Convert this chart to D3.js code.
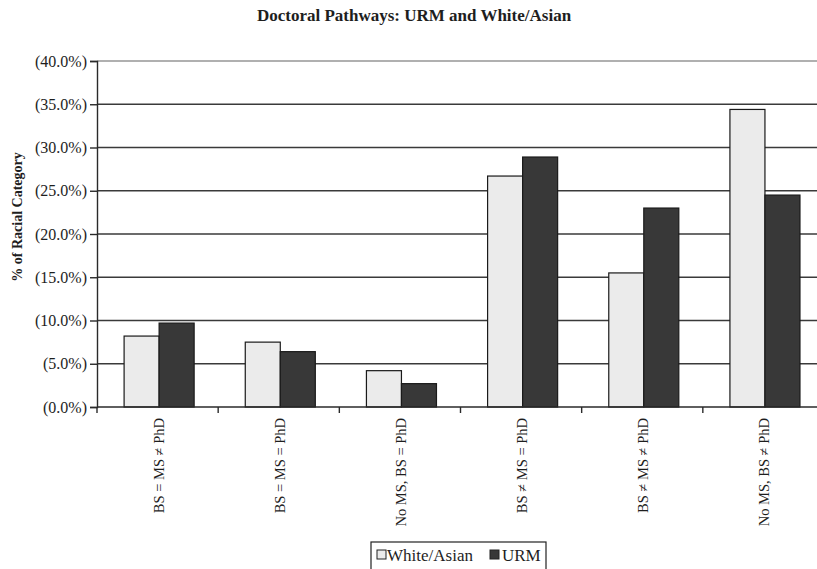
<!DOCTYPE html>
<html>
<head>
<meta charset="utf-8">
<script src="https://cdn.jsdelivr.net/npm/d3@7"></script>
<style>
  html, body { margin: 0; padding: 0; background: #fff; }
  svg { display: block; }
  text { font-family: "Liberation Serif", "Times New Roman", serif; fill: #1e1e1e; }
</style>
</head>
<body>
<svg id="chart" width="817" height="569"></svg>
<script>
// Doctoral pathway categories and the share of each racial group (%)
const categories = [
  "BS = MS \u2260 PhD",
  "BS = MS = PhD",
  "No MS, BS = PhD",
  "BS \u2260 MS = PhD",
  "BS \u2260 MS \u2260 PhD",
  "No MS, BS \u2260 PhD"
];
const seriesNames = ["White/Asian", "URM"];
const whiteAsian = [8.2, 7.5, 4.2, 26.7, 15.5, 34.4];
const urm = [9.7, 6.4, 2.7, 28.9, 23.0, 24.5];
const yTicks = [0, 5, 10, 15, 20, 25, 30, 35, 40];

const colors = { "White/Asian": "#ebebeb", "URM": "#383838" };

const svg = d3.select("#chart");
const margin = { left: 97, top: 61, right: 824, bottom: 407 };

const x = d3.scaleBand()
  .domain(categories)
  .range([margin.left, margin.right])
  .paddingInner(0)
  .paddingOuter(0);

const xInner = d3.scaleBand()
  .domain(seriesNames)
  .range([0, x.bandwidth()])
  .paddingOuter(0.73)
  .paddingInner(0)
  .align(0.53);

const y = d3.scaleLinear().domain([0, 40]).range([margin.bottom, margin.top]);

// Title
svg.append("text")
  .attr("x", 414).attr("y", 21)
  .attr("text-anchor", "middle")
  .style("font-size", "17px").style("font-weight", "bold")
  .text("Doctoral Pathways: URM and White/Asian");

// Horizontal gridlines
svg.append("g").selectAll("line")
  .data(yTicks.filter(d => d > 0))
  .join("line")
  .attr("x1", margin.left).attr("x2", margin.right)
  .attr("y1", d => y(d)).attr("y2", d => y(d))
  .attr("stroke", d => d === 40 ? "#b0b0b0" : "#3a3a3a")
  .attr("stroke-width", d => d === 40 ? 2 : 1.4);

// Bars
const data = categories.map((c, i) => ({
  cat: c,
  values: [
    { key: "White/Asian", v: whiteAsian[i] },
    { key: "URM", v: urm[i] }
  ]
}));

svg.append("g").selectAll("g")
  .data(data)
  .join("g")
  .attr("transform", d => `translate(${x(d.cat)},0)`)
  .selectAll("rect")
  .data(d => d.values)
  .join("rect")
  .attr("x", d => xInner(d.key))
  .attr("y", d => y(d.v))
  .attr("width", xInner.bandwidth())
  .attr("height", d => y(0) - y(d.v))
  .attr("fill", d => colors[d.key])
  .attr("stroke", "#1a1a1a")
  .attr("stroke-width", 1.2);

// Y axis
const yAxis = d3.axisLeft(y)
  .tickValues(yTicks)
  .tickSize(7)
  .tickPadding(3)
  .tickFormat(d => `(${d.toFixed(1)}%)`);

const gy = svg.append("g")
  .attr("transform", `translate(${margin.left},0)`)
  .call(yAxis);
gy.select(".domain").attr("stroke", "#2a2a2a").attr("stroke-width", 1.4);
gy.selectAll(".tick line").attr("stroke", "#2a2a2a").attr("stroke-width", 1.4);
gy.selectAll(".tick text")
  .style("font-family", "'Liberation Serif', serif")
  .style("font-size", "16px")
  .attr("fill", "#222");

// X axis (category boundaries ticked, labels rotated)
svg.append("line")
  .attr("x1", margin.left).attr("x2", margin.right)
  .attr("y1", y(0)).attr("y2", y(0))
  .attr("stroke", "#2a2a2a").attr("stroke-width", 1.4);

svg.append("g").selectAll("line")
  .data(categories.map(c => x(c)).concat([x.range()[1]]))
  .join("line")
  .attr("x1", d => d).attr("x2", d => d)
  .attr("y1", y(0)).attr("y2", y(0) + 6)
  .attr("stroke", "#2a2a2a").attr("stroke-width", 1.4);

svg.append("g").selectAll("text")
  .data(categories)
  .join("text")
  .attr("transform", d => `translate(${x(d) + x.bandwidth() / 2 + 6},${y(0) + 11}) rotate(-90)`)
  .attr("text-anchor", "end")
  .style("font-size", "14.5px")
  .text(d => d);

// Y axis title
svg.append("text")
  .attr("transform", "translate(22,217) rotate(-90)")
  .attr("text-anchor", "middle")
  .style("font-size", "14px").style("font-weight", "bold")
  .text("% of Racial Category");

// Legend
const legend = svg.append("g");
legend.append("rect")
  .attr("x", 371).attr("y", 542).attr("width", 175).attr("height", 32)
  .attr("fill", "#fff").attr("stroke", "#222").attr("stroke-width", 1.2);

const legendItems = [
  { key: "White/Asian", sx: 377, tx: 387, w: 93 },
  { key: "URM", sx: 490, tx: 502, w: 40 }
];
legendItems.forEach(it => {
  legend.append("rect")
    .attr("x", it.sx).attr("y", 550).attr("width", 9).attr("height", 9)
    .attr("fill", colors[it.key]).attr("stroke", "#222").attr("stroke-width", 1);
  legend.append("text")
    .attr("x", it.tx).attr("y", 561)
    .style("font-size", "17px")
    .text(it.key);
});
</script>
</body>
</html>
